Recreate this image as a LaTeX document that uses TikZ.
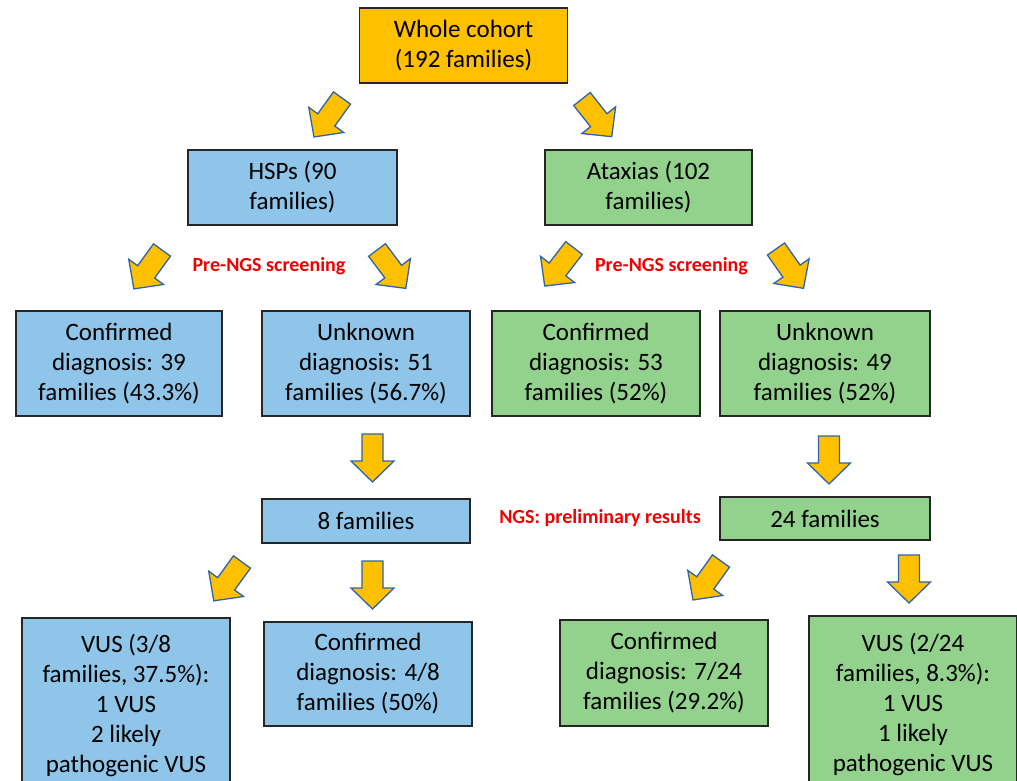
\documentclass[tikz,border=0pt]{standalone}
\usepackage{fontspec}
\setmainfont{Carlito}
\definecolor{orangeC}{HTML}{FFC000}
\definecolor{blueC}{RGB}{142,197,232}
\definecolor{greenC}{RGB}{146,210,140}
\definecolor{arrowline}{RGB}{46,100,170}
\definecolor{redC}{RGB}{240,0,0}
\tikzset{
  box/.style={draw=black!85, line width=1.3pt, align=center, inner sep=0pt,
    font=\fontsize{25}{30}\selectfont, text=black},
  hspbox/.style={box, fill=blueC},
  ataxbox/.style={box, fill=greenC},
  redlabel/.style={text=redC, font=\fontsize{20}{23}\selectfont\bfseries},
  arrowshape/.style={fill=orangeC, draw=arrowline, line width=1.3pt, line join=miter},
  barrow/.pic={\draw[arrowshape] (0pt,-10.5pt) -- (27pt,-10.5pt) -- (27pt,-21.5pt) -- (48pt,0pt) -- (27pt,21.5pt) -- (27pt,10.5pt) -- (0pt,10.5pt) -- cycle;}
}
\begin{document}
\begin{tikzpicture}[x=1pt,y=-1pt]
\useasboundingbox (0,0) rectangle (1017,780);
\clip (0,0) rectangle (1017,780);
% boxes
\node[box, fill=orangeC, minimum width=208, minimum height=75] (whole) at (463.5,45.5) {Whole cohort\\(192 families)};
\node[hspbox, minimum width=209, minimum height=75] (hsp) at (292.5,187.5) {HSPs (90\\families)};
\node[ataxbox, minimum width=207, minimum height=75] (atax) at (648.5,187.5) {Ataxias (102\\families)};
\node[hspbox, minimum width=206, minimum height=105] (hspconf) at (119,363.5) {Confirmed\\diagnosis: 39\\families (43.3\%)};
\node[hspbox, minimum width=208, minimum height=105] (hspunk) at (366,363.5) {Unknown\\diagnosis: 51\\families (56.7\%)};
\node[ataxbox, minimum width=208, minimum height=105] (ataxconf) at (596,363.5) {Confirmed\\diagnosis: 53\\families (52\%)};
\node[ataxbox, minimum width=210, minimum height=105] (ataxunk) at (825,363.5) {Unknown\\diagnosis: 49\\families (52\%)};
\node[hspbox, minimum width=208, minimum height=44] (hspngs) at (366,521) {8 families};
\node[ataxbox, minimum width=210, minimum height=43] (ataxngs) at (825,518.5) {24 families};
\node[hspbox, minimum width=208, minimum height=174] (hspvus) at (126,705) {VUS (3/8\\families, 37.5\%):\\1 VUS\\2 likely\\pathogenic VUS};
\node[hspbox, minimum width=208, minimum height=104] (hspconf2) at (368,674) {Confirmed\\diagnosis: 4/8\\families (50\%)};
\node[ataxbox, minimum width=208, minimum height=106] (ataxconf2) at (664,673) {Confirmed\\diagnosis: 7/24\\families (29.2\%)};
\node[ataxbox, minimum width=208, minimum height=176] (ataxvus) at (913,704) {VUS (2/24\\families, 8.3\%):\\1 VUS\\1 likely\\pathogenic VUS};
% labels
\node[redlabel] (lab1) at (269,266) {Pre-NGS screening};
\node[redlabel] (lab2) at (671.5,266) {Pre-NGS screening};
\node[redlabel] (lab3) at (600,518) {NGS: preliminary results};
% block arrows
\pic[rotate=-125.7] at (342,98) {barrow};
\pic[rotate=-51.7] at (582,99) {barrow};
\pic[rotate=-125.9] at (162,250) {barrow};
\pic[rotate=-53.1] at (377,250) {barrow};
\pic[rotate=-127.6] at (574,248) {barrow};
\pic[rotate=-55] at (776,249) {barrow};
\pic[rotate=-90] at (372.5,434) {barrow};
\pic[rotate=-90] at (829,436) {barrow};
\pic[rotate=-126] at (242,562) {barrow};
\pic[rotate=-90] at (372.5,561) {barrow};
\pic[rotate=-125.7] at (721,561) {barrow};
\pic[rotate=-90] at (909,555) {barrow};
\end{tikzpicture}
\end{document}
